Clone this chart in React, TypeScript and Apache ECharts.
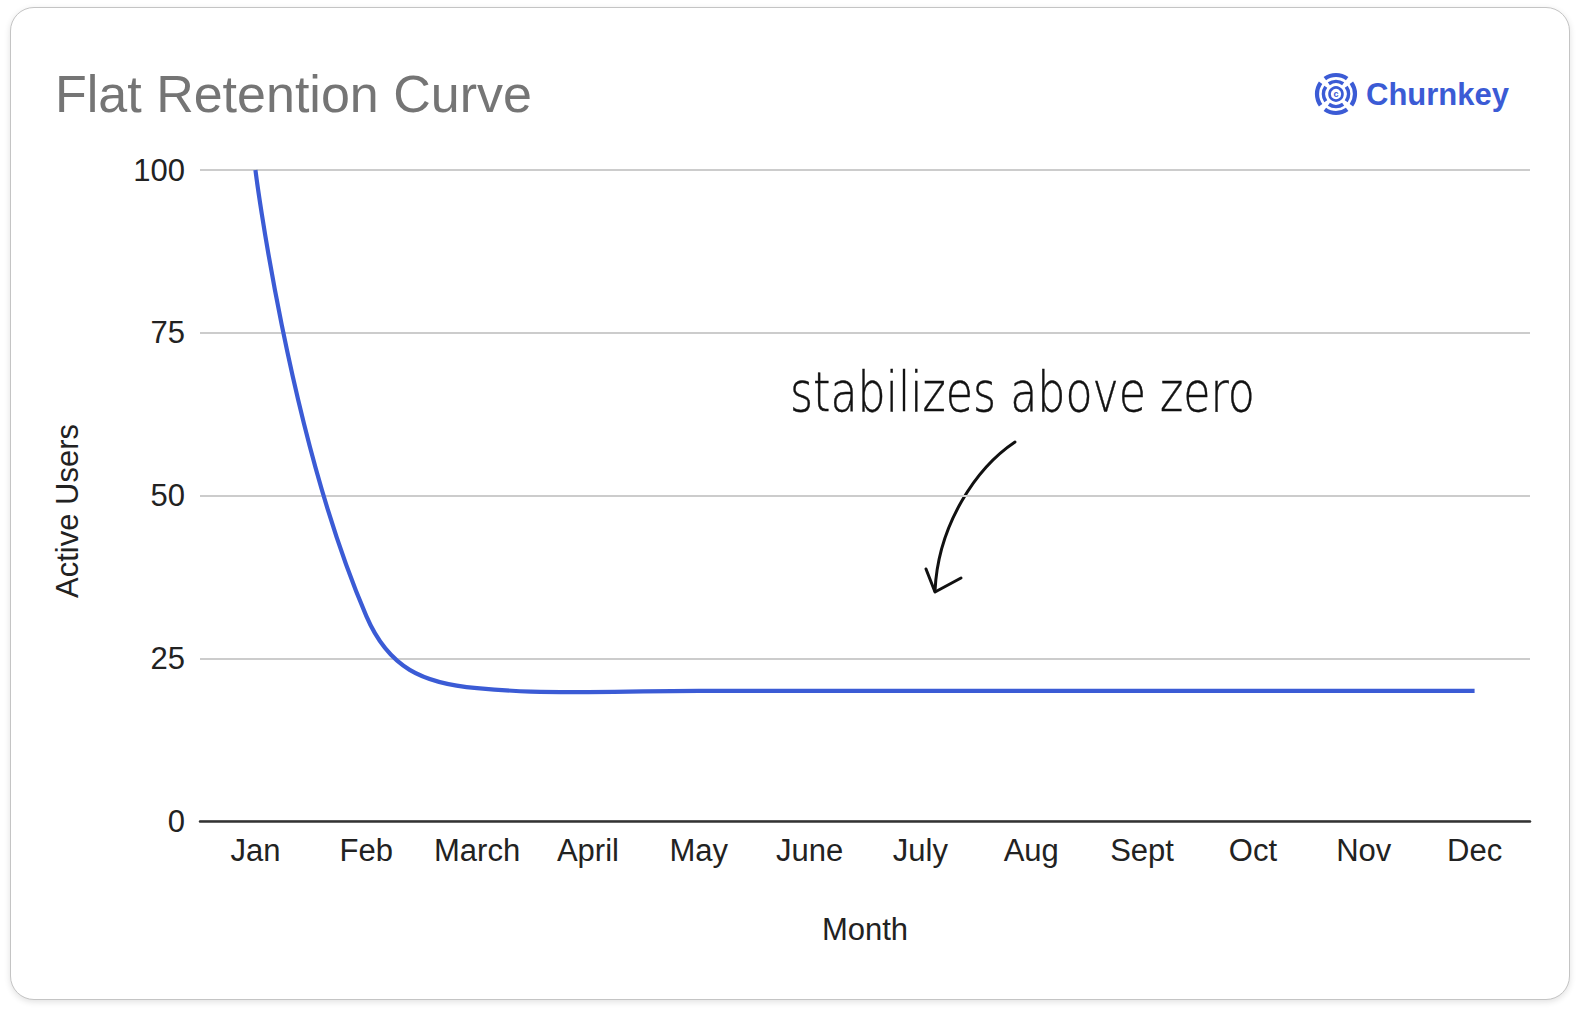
import React, { useEffect, useRef } from "react";
import * as echarts from "echarts";

const months = ["Jan", "Feb", "March", "April", "May", "June", "July", "Aug", "Sept", "Oct", "Nov", "Dec"];
const activeUsers = [100, 31.5, 20.4, 19.8, 20, 20, 20, 20, 20, 20, 20, 20];
const yTicks = { min: 0, max: 100, interval: 25 };
const titleText = "Flat Retention Curve";
const brandText = "Churnkey";
const annotationText = "stabilizes above zero";
const xName = "Month";
const yName = "Active Users";

const FONT = "'Liberation Sans', Arial, Helvetica, sans-serif";
const BLUE = "#3b5bd5";

function logoArcs(cx: number, cy: number) {
  const els: any[] = [];
  const rings = [
    { r: 19, w: 4.2, span: 72 },
    { r: 12.5, w: 3.6, span: 70 },
  ];
  rings.forEach((ring) => {
    [0, 90, 180, 270].forEach((c) => {
      const s = ((c - ring.span / 2) * Math.PI) / 180;
      const e = ((c + ring.span / 2) * Math.PI) / 180;
      els.push({
        type: "arc",
        shape: { cx, cy, r: ring.r, startAngle: s, endAngle: e, clockwise: true },
        style: { stroke: BLUE, lineWidth: ring.w, fill: "none" },
      });
    });
  });
  els.push({
    type: "circle",
    shape: { cx, cy, r: 6.5 },
    style: { stroke: BLUE, lineWidth: 2.6, fill: "none" },
  });
  els.push({
    type: "text",
    style: {
      x: cx,
      y: cy,
      text: "c",
      fill: BLUE,
      font: `bold 9px ${FONT}`,
      align: "center",
      verticalAlign: "middle",
    },
  });
  return els;
}

export default function App() {
  const ref = useRef<HTMLDivElement>(null);

  useEffect(() => {
    document.body.style.margin = "0";
    if (!ref.current) return;
    const chart = echarts.init(ref.current, undefined, { renderer: "svg" });
    chart.setOption({
      animation: false,
      backgroundColor: "transparent",
      grid: { left: 200, right: 52, top: 170, bottom: 195, containLabel: false },
      xAxis: {
        type: "category",
        data: months,
        boundaryGap: true,
        axisLine: { show: true, lineStyle: { color: "#333333", width: 2.5 } },
        axisTick: { show: false },
        splitLine: { show: false },
        axisLabel: { color: "#222222", fontSize: 31, fontFamily: FONT, margin: 14, interval: 0 },
      },
      yAxis: {
        type: "value",
        min: yTicks.min,
        max: yTicks.max,
        interval: yTicks.interval,
        axisLine: { show: false },
        axisTick: { show: false },
        splitLine: { show: true, lineStyle: { color: "#cccccc", width: 2 } },
        axisLabel: { color: "#222222", fontSize: 31, fontFamily: FONT, margin: 15 },
      },
      series: [
        {
          type: "line",
          data: activeUsers,
          smooth: 0.45,
          symbol: "none",
          lineStyle: { color: BLUE, width: 4.2 },
          z: 3,
        },
      ],
      graphic: [
        {
          type: "text",
          left: 55,
          top: 68,
          style: { text: titleText, fill: "#757575", font: `52px ${FONT}` },
        },
        ...logoArcs(1336, 94),
        {
          type: "text",
          style: {
            x: 1366,
            y: 94,
            text: brandText,
            fill: BLUE,
            font: `bold 31px ${FONT}`,
            align: "left",
            verticalAlign: "middle",
          },
        },
        {
          type: "text",
          x: 67,
          y: 511,
          rotation: Math.PI / 2,
          style: {
            x: 0,
            y: 0,
            text: yName,
            fill: "#222222",
            font: `31px ${FONT}`,
            align: "center",
            verticalAlign: "middle",
          },
        },
        {
          type: "text",
          style: {
            x: 865,
            y: 929,
            text: xName,
            fill: "#222222",
            font: `31px ${FONT}`,
            align: "center",
            verticalAlign: "middle",
          },
        },
        {
          type: "text",
          x: 790,
          y: 411,
          scaleX: 1.03,
          scaleY: 1.3,
          style: {
            x: 0,
            y: -15,
            text: annotationText,
            fill: "#111111",
            stroke: "#111111",
            lineWidth: 0.35,
            fontFamily: "'DejaVu Sans', sans-serif",
            fontWeight: 200,
            fontSize: 43,
            align: "left",
            verticalAlign: "middle",
          },
        },
        {
          type: "bezierCurve",
          shape: { x1: 1015, y1: 442, cpx1: 976, cpy1: 468, cpx2: 938, cpy2: 525, x2: 935, y2: 591 },
          style: { stroke: "#111111", lineWidth: 3, fill: "none", lineCap: "round" },
        },
        {
          type: "polyline",
          shape: { points: [[926, 569], [935, 592], [961, 578]] },
          style: { stroke: "#111111", lineWidth: 3, fill: "none", lineCap: "round", lineJoin: "round" },
        },
      ],
    });
    return () => chart.dispose();
  }, []);

  return (
    <div style={{ position: "relative", width: 1582, height: 1016, background: "#ffffff", overflow: "hidden" }}>
      <div
        style={{
          position: "absolute",
          left: 10,
          top: 7,
          width: 1558,
          height: 991,
          border: "1.5px solid #c4c4c4",
          borderRadius: 24,
          boxShadow: "0 2px 6px rgba(0,0,0,0.12)",
          background: "#ffffff",
        }}
      />
      <div ref={ref} style={{ position: "absolute", left: 0, top: 0, width: 1582, height: 1016 }} />
    </div>
  );
}
